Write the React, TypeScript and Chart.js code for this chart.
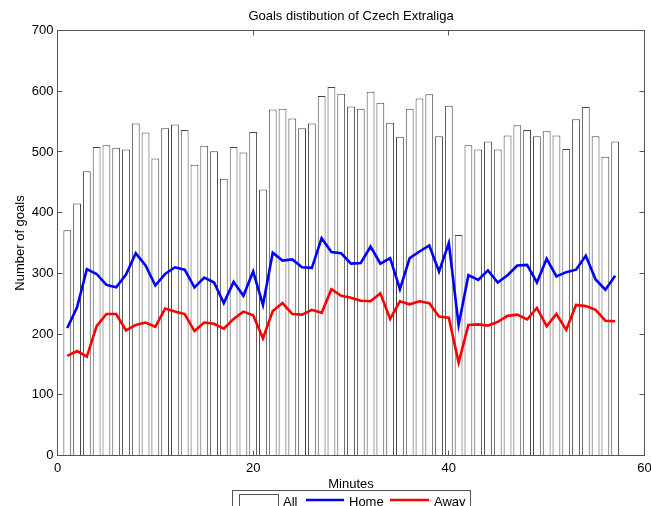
import React, { useEffect, useRef } from "react";
import { Chart, registerables } from "chart.js";

Chart.register(...registerables);

const minutes = [1, 2, 3, 4, 5, 6, 7, 8, 9, 10, 11, 12, 13, 14, 15, 16, 17, 18, 19, 20, 21, 22, 23, 24, 25, 26, 27, 28, 29, 30, 31, 32, 33, 34, 35, 36, 37, 38, 39, 40, 41, 42, 43, 44, 45, 46, 47, 48, 49, 50, 51, 52, 53, 54, 55, 56, 57];
const allGoals = [371, 415, 468, 508, 511, 507, 504, 547, 532, 489, 539, 545, 536, 479, 510, 501, 456, 508, 499, 533, 438, 570, 571, 555, 539, 547, 592, 607, 596, 575, 571, 599, 581, 548, 525, 571, 588, 595, 526, 576, 363, 511, 504, 517, 504, 527, 544, 536, 526, 534, 527, 505, 554, 574, 526, 492, 517];
const homeGoals = [210, 244, 307, 299, 281, 277, 298, 333, 313, 280, 299, 310, 306, 277, 293, 285, 251, 286, 263, 303, 248, 334, 321, 323, 310, 309, 358, 335, 333, 316, 317, 344, 316, 325, 274, 325, 336, 346, 303, 350, 215, 297, 289, 305, 285, 297, 313, 314, 285, 324, 295, 302, 306, 329, 290, 273, 296];
const awayGoals = [164, 172, 163, 213, 233, 233, 206, 215, 219, 212, 242, 237, 233, 205, 219, 217, 209, 225, 237, 231, 193, 238, 251, 233, 232, 240, 235, 274, 263, 260, 255, 254, 267, 225, 254, 249, 254, 251, 229, 227, 153, 215, 216, 214, 220, 230, 232, 224, 243, 213, 233, 207, 248, 246, 240, 222, 221];
const xTicks = [0, 20, 40, 60];
const yTicks = [0, 100, 200, 300, 400, 500, 600, 700];
const titleText = "Goals distibution of Czech Extraliga";
const xLabel = "Minutes";
const yLabel = "Number of goals";
const legendLabels = ["All", "Home", "Away"];

const FONT = '"Liberation Sans", Arial, Helvetica, sans-serif';
const AXIS = "#555555";
const BLUE = "#0000ff";
const RED = "#ff0000";

const decor = {
  id: "matlabDecor",
  afterDraw(chart: any) {
    const { ctx, chartArea: a, scales } = chart;
    ctx.save();
    ctx.strokeStyle = AXIS;
    ctx.lineWidth = 1;
    const L = Math.floor(a.left) + 0.5;
    const R = Math.floor(a.right) + 0.5;
    const T = Math.floor(a.top) + 0.5;
    const B = Math.floor(a.bottom) + 0.5;
    ctx.strokeRect(L, T, R - L, B - T);
    const tl = 5;
    ctx.beginPath();
    yTicks.forEach((v) => {
      const y = Math.floor(scales.y.getPixelForValue(v)) + 0.5;
      ctx.moveTo(L, y); ctx.lineTo(L + tl, y);
      ctx.moveTo(R, y); ctx.lineTo(R - tl, y);
    });
    xTicks.forEach((v) => {
      const x = Math.floor(scales.x.getPixelForValue(v)) + 0.5;
      ctx.moveTo(x, B); ctx.lineTo(x, B - tl);
      ctx.moveTo(x, T); ctx.lineTo(x, T + tl);
    });
    ctx.stroke();

    ctx.fillStyle = "#000";
    ctx.font = `13px ${FONT}`;
    ctx.textBaseline = "alphabetic";
    ctx.textAlign = "center";
    const cx = (a.left + a.right) / 2;
    ctx.fillText(titleText, cx, 20);
    ctx.fillText(xLabel, cx, 488);
    ctx.save();
    ctx.translate(23.5, (a.top + a.bottom) / 2);
    ctx.rotate(-Math.PI / 2);
    ctx.fillText(yLabel, 0, 0);
    ctx.restore();

    // legend (cut off at bottom, like the reference)
    ctx.fillStyle = "#fff";
    ctx.fillRect(232.5, 490.5, 238, 40);
    ctx.strokeStyle = AXIS;
    ctx.strokeRect(232.5, 490.5, 238, 40);
    ctx.strokeRect(239.5, 494.5, 39, 30);
    ctx.lineWidth = 2.5;
    ctx.strokeStyle = BLUE;
    ctx.beginPath(); ctx.moveTo(306, 500); ctx.lineTo(344, 500); ctx.stroke();
    ctx.strokeStyle = RED;
    ctx.beginPath(); ctx.moveTo(390, 500); ctx.lineTo(429, 500); ctx.stroke();
    ctx.fillStyle = "#000";
    ctx.textAlign = "left";
    ctx.fillText(legendLabels[0], 283, 506);
    ctx.fillText(legendLabels[1], 349, 506);
    ctx.fillText(legendLabels[2], 434, 506);
    ctx.restore();
  },
};

export default function App() {
  const ref = useRef<HTMLCanvasElement | null>(null);
  useEffect(() => {
    document.body.style.margin = "0";
    const canvas = ref.current;
    if (!canvas) return;
    const chart = new Chart(canvas, {
      type: "bar",
      data: {
        datasets: [
          {
            type: "bar",
            label: legendLabels[0],
            data: minutes.map((m, i) => ({ x: m, y: allGoals[i] })),
            backgroundColor: "#ffffff",
            borderColor: "#444444",
            borderWidth: 1,
            barPercentage: 0.8,
            categoryPercentage: 1,
            order: 3,
          } as any,
          {
            type: "line",
            label: legendLabels[1],
            data: minutes.map((m, i) => ({ x: m, y: homeGoals[i] })),
            borderColor: BLUE,
            borderWidth: 2.6,
            pointRadius: 0,
            tension: 0,
            fill: false,
            order: 2,
          } as any,
          {
            type: "line",
            label: legendLabels[2],
            data: minutes.map((m, i) => ({ x: m, y: awayGoals[i] })),
            borderColor: RED,
            borderWidth: 2.6,
            pointRadius: 0,
            tension: 0,
            fill: false,
            order: 1,
          } as any,
        ],
      },
      options: {
        animation: false,
        responsive: false,
        devicePixelRatio: 1,
        layout: { padding: { top: 30.5, right: 6.5, left: 0, bottom: 0 } },
        plugins: { legend: { display: false }, tooltip: { enabled: false }, title: { display: false } },
        scales: {
          x: {
            type: "linear",
            min: 0,
            max: 60,
            offset: false,
            grid: { display: false, drawTicks: false, offset: false },
            border: { display: false },
            ticks: {
              stepSize: 20,
              padding: 5,
              color: "#000",
              font: { family: FONT, size: 13 },
              maxRotation: 0,
            },
            afterFit: (s: any) => { s.height = 50.5; s.paddingLeft = 0; s.paddingRight = 0; },
          },
          y: {
            type: "linear",
            min: 0,
            max: 700,
            grid: { display: false, drawTicks: false },
            border: { display: false },
            ticks: {
              stepSize: 100,
              padding: 4,
              color: "#000",
              font: { family: FONT, size: 13 },
            },
            afterFit: (s: any) => { s.width = 57.5; s.paddingTop = 0; s.paddingBottom = 0; },
          },
        },
      } as any,
      plugins: [decor],
    });
    return () => chart.destroy();
  }, []);
  return (
    <div style={{ width: 651, height: 506 }}>
      <canvas ref={ref} width={651} height={506} style={{ display: "block" }} />
    </div>
  );
}
